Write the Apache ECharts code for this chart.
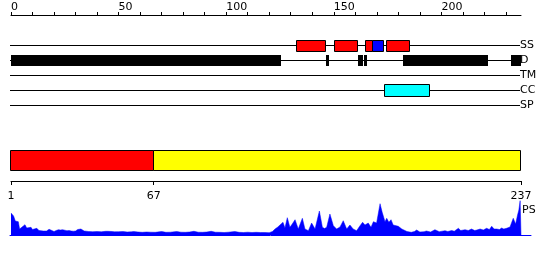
<!DOCTYPE html>
<html><head><meta charset="utf-8">
<script src="https://cdn.jsdelivr.net/npm/echarts@6/dist/echarts.min.js"></script>
<style>html,body{margin:0;padding:0;background:#fff}#c{width:550px;height:260px}</style>
</head><body><div id="c"></div>
<script>
// ---- data ----
const seqLength = 237;
const topTicks = [0,10,20,30,40,50,60,70,80,90,100,110,120,130,140,150,160,170,180,190,200,210,220,230];
const topTickLabels = [0,50,100,150,200];
const trackNames = ['SS','D','TM','CC','SP'];
const ssStart = [132.5, 150, 164.5, 167.6, 174.4];
const ssEnd   = [145.8, 160.6, 167.6, 172.9, 184.8];
const ssType  = ['helix','helix','helix','strand','helix'];
const disStart = [0, 146.2, 161.2, 164.2, 182.2, 232.5];
const disEnd   = [125.6, 147.8, 163.4, 165.6, 221.5, 237];
const ccStart = [173.5];
const ccEnd   = [194.4];
const domainStart = [1, 67];
const domainEnd   = [67, 237];
const domainType  = ['d1','d2'];
const domainTicks = [1, 67, 237];
const psPos = [0,0.6,1.2,2,2.6,3.4,4,5,5.6,6.5,7.3,7.8,9.3,10,10.7,12,13,14,15,16.5,17.7,18.5,20,21,22,23,24,25,26,27,28,29,30,31,31.6,32.5,33,34,35,36,38,40,42,44,45,47,48,50,52,54,56,57,59,61,63,65,67,70,72,74,77,79,81,83,85,87,89,91,93,95,97,99,101,104,106,108,110,112,114,116,118,120,121.5,122.7,124,125,126.4,127.3,128.4,129.6,130.7,132,133.5,135.4,136.6,138.2,139.7,141.3,143.3,144.7,145.7,146.7,148.2,149.8,151.3,152.9,154.4,156,157.5,159,160.6,162.2,163.4,164.5,166,167.3,168.4,169.9,171.5,172.5,173.8,174.6,175.6,176.6,177.6,178.4,180,180.8,181.6,182.3,184,186,187.5,188.5,190,192,193,195,197,199,201.7,203,204.8,206,207.9,209,211,212.5,214,215.5,216.5,218,219.5,221,222.3,223.4,224.5,225.7,227,228,229,230.3,231.2,231.9,232.7,233.4,234.5,235.4,236,236.6,237];
const psVal = [22,22.7,19,14,13.5,13.3,6,7.7,8.5,10.3,7,6,7.7,5.5,5,6.7,4.5,4.3,4,4,5.7,4,3.5,4.5,5.3,5,5.3,4.8,4.3,4.5,4,3.8,4,5.5,6.7,6,5.5,4,3.8,3.5,3.3,3.5,3.2,3.7,3.7,3.5,3.2,3.3,3.5,3,3.2,3.5,3,2.7,3,2.8,2.7,3.5,2.7,2.8,3.5,2.8,2.7,3,3.7,2.8,2.7,3,3.7,2.8,2.7,2.5,2.8,3.5,2.7,2.5,2.8,2.5,2.7,2.5,2.5,2.3,3.5,6,8,10,12.7,7,17.3,7.7,11,15.3,6,16.7,6,4.3,12,6,24,7.7,6.5,7.7,21,9.3,6,8,14.3,6,10,6,4.3,9.3,12.7,10,12,7.7,13.3,12,31.3,22.7,13.3,16.7,12.7,15.3,10,9.3,8.7,9,6,4.3,3.5,2.7,3.5,5,3,3.3,4,3,5.3,3.3,4.3,3.5,4.5,3.8,6.7,4.5,5.3,4.5,6,4.5,5,6,5,6.7,5.5,8.7,6,6,5.5,7,6,6.7,6,8,12.7,16.7,11,20,25,34.3,0];

// ---- styles ----
const FONT = 'DejaVu Sans';
const ssColor = {helix:'#ff0000', strand:'#0000ff'};
const domainColor = {d1:'#ff0000', d2:'#ffff00'};

function crisp(v){ return Math.round(v) + 0.5; }

function trackLineRender(params, api){
  const a = api.coord([api.value(0), api.value(2)]);
  const b = api.coord([api.value(1), api.value(2)]);
  const y = crisp(a[1]);
  return {type:'line', shape:{x1:a[0]-1, y1:y, x2:b[0]-1, y2:y}, style:{stroke:'#000', lineWidth:1}};
}
function boxRender(h, fillFn, stroked, dy){
  return function(params, api){
    const a = api.coord([api.value(0), api.value(2)]);
    const b = api.coord([api.value(1), api.value(2)]);
    const ly = crisp(a[1]);
    if (stroked){
      const x1 = crisp(a[0]), x2 = crisp(b[0]);
      const y1 = Math.round(ly - h/2 + (dy||0)) + 0.5;
      return {type:'rect', shape:{x:x1, y:y1, width:x2-x1, height:h}, style:{fill:fillFn(params.dataIndex), stroke:'#000', lineWidth:1}};
    }
    const x1 = Math.round(a[0]), x2 = Math.round(b[0]);
    return {type:'rect', shape:{x:x1, y:Math.round(ly - h/2), width:Math.max(1,x2-x1), height:h}, style:{fill:fillFn(params.dataIndex)}};
  };
}
function domainRender(params, api){
  const a = api.coord([api.value(0), 0]);
  const b = api.coord([api.value(1), 20]);
  const x1 = crisp(a[0]-1), x2 = crisp(b[0]-1);
  return {type:'rect', shape:{x:x1, y:crisp(a[1]), width:x2-x1, height:20}, style:{fill:domainColor[domainType[params.dataIndex]], stroke:'#000', lineWidth:1}};
}

const chart = echarts.init(document.getElementById('c'), null, {renderer:'canvas'});
const option = {
  animation:false,
  backgroundColor:'#fff',
  textStyle:{fontFamily:FONT},
  grid:[
    {left:11, width:510, top:15, height:90},
    {left:11, width:510, top:150, height:31},
    {left:11, width:510, top:200, height:35},
    {left:10, width:521, top:200, height:35}
  ],
  xAxis:[
    {gridIndex:0, type:'value', min:0, max:seqLength, position:'top',
     axisLine:{show:true, onZero:false, lineStyle:{color:'#000', width:1}},
     axisTick:{show:true, customValues:topTicks, length:3, lineStyle:{color:'#000'}},
     axisLabel:{customValues:topTickLabels, align:'left', margin:2, fontSize:11, color:'#000', fontFamily:FONT},
     splitLine:{show:false}},
    {gridIndex:1, type:'value', min:1, max:seqLength, position:'bottom',
     axisLine:{show:true, onZero:false, lineStyle:{color:'#000', width:1}},
     axisTick:{show:true, customValues:domainTicks, length:4, lineStyle:{color:'#000'}},
     axisLabel:{customValues:domainTicks, align:'center', margin:10, fontSize:11, color:'#000', fontFamily:FONT},
     splitLine:{show:false}},
    {gridIndex:2, type:'value', min:0, max:seqLength, show:false},
    {gridIndex:3, type:'value', min:0, max:1, position:'bottom',
     axisLine:{show:true, onZero:false, lineStyle:{color:'#0000ff', width:1}},
     axisTick:{show:false}, axisLabel:{show:false}, splitLine:{show:false}}
  ],
  yAxis:[
    {gridIndex:0, type:'value', min:-2, max:4, inverse:true, position:'right',
     axisLine:{show:false, onZero:false}, axisTick:{show:false}, splitLine:{show:false},
     axisLabel:{customValues:[0,1,2,3,4], formatter:v=>trackNames[v], margin:-1, align:'left', fontSize:11, color:'#000', fontFamily:FONT}},
    {gridIndex:1, type:'value', min:0, max:31, inverse:true, show:false},
    {gridIndex:2, type:'value', min:0, max:35, show:false},
    {gridIndex:3, type:'value', min:0, max:1, show:false}
  ],
  graphic:[
    {type:'text', left:522, top:205, style:{text:'PS', fontSize:11, fontFamily:FONT, fill:'#000'}}
  ],
  series:[
    {type:'custom', xAxisIndex:0, yAxisIndex:0, renderItem:trackLineRender, z:1,
     data:trackNames.map((n,i)=>[0, seqLength, i])},
    {type:'custom', xAxisIndex:0, yAxisIndex:0, z:3, renderItem:boxRender(11, i=>ssColor[ssType[i]], true),
     data:ssStart.map((s,i)=>[s, ssEnd[i], 0])},
    {type:'custom', xAxisIndex:0, yAxisIndex:0, z:3, renderItem:boxRender(11, ()=>'#000', false),
     data:disStart.map((s,i)=>[s, disEnd[i], 1])},
    {type:'custom', xAxisIndex:0, yAxisIndex:0, z:3, renderItem:boxRender(12, ()=>'#00ffff', true, -1),
     data:ccStart.map((s,i)=>[s, ccEnd[i], 3])},
    {type:'custom', xAxisIndex:1, yAxisIndex:1, z:3, renderItem:domainRender,
     data:domainStart.map((s,i)=>[s, domainEnd[i]])},
    {type:'line', xAxisIndex:2, yAxisIndex:2, showSymbol:false, symbol:'none', z:3,
     lineStyle:{color:'#0000ff', width:0.5}, areaStyle:{color:'#0000ff', opacity:1},
     data:psPos.map((p,i)=>[p, psVal[i]])}
  ]
};
chart.setOption(option);
</script>
</body></html>
